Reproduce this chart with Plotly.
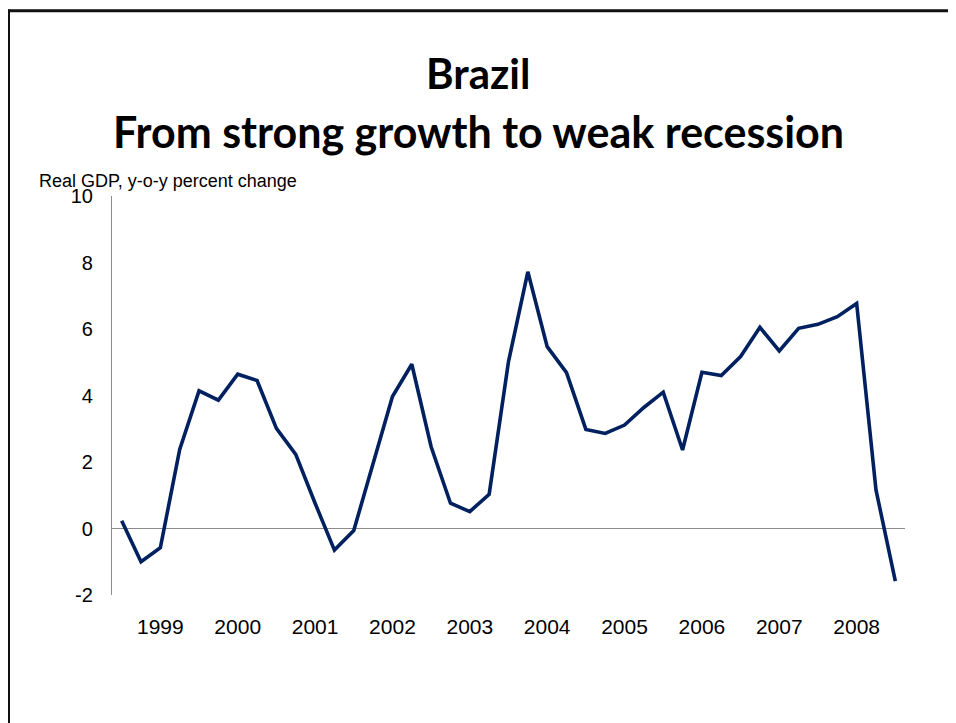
import plotly.graph_objects as go

quarters = ["1998Q3", "1998Q4"] + [f"{y}Q{q}" for y in range(1999, 2009) for q in range(1, 5)]
quarters = quarters[:41]
gdp_growth = [0.23, -1.0, -0.58, 2.38, 4.14, 3.86, 4.64, 4.45, 3.01, 2.23,
              0.76, -0.65, -0.06, 1.91, 3.97, 4.94, 2.46, 0.76, 0.51, 1.03,
              5.02, 7.72, 5.47, 4.69, 2.98, 2.86, 3.11, 3.64, 4.10, 2.36,
              4.70, 4.60, 5.17, 6.05, 5.34, 6.02, 6.14, 6.37, 6.77, 1.16,
              -1.58]
year_labels = ["1999", "2000", "2001", "2002", "2003", "2004", "2005", "2006", "2007", "2008"]
year_tick_cats = [quarters[2 + 4 * k] for k in range(len(year_labels))]
y_ticks = [-2, 0, 2, 4, 6, 8, 10]
y_tick_text = ["-2", "0", "2", "4", "6", "8", "10"]

# The page body has an 8px margin, so the figure starts at (8, 8) in the window.
OFF = 8
W, H = 956 - OFF, 723 - OFF
L, R, T, B = 112 - OFF, 905 - OFF, 196 - OFF, 595 - OFF

def px_x(px):
    return (px - OFF - L) / (R - L)

def px_y(py):
    return (B - (py - OFF)) / (B - T)

fig = go.Figure()
fig.add_trace(go.Scatter(
    x=quarters, y=gdp_growth, mode="lines",
    line=dict(color="#002060", width=3.6),
    hoverinfo="x+y", showlegend=False,
))

fig.update_layout(
    width=W, height=H,
    margin=dict(l=L, r=W - R, t=T, b=H - B, pad=0),
    paper_bgcolor="white", plot_bgcolor="white",
    font=dict(family="Liberation Sans, Arial", color="black"),
    xaxis=dict(
        type="category", range=[-0.5, 40.5],
        tickmode="array", tickvals=year_tick_cats, ticktext=year_labels,
        showgrid=False, zeroline=False, showline=False, ticks="",
        tickfont=dict(size=21, family="Liberation Sans, Arial"),
        ticklabelstandoff=17,
    ),
    yaxis=dict(
        range=[-2, 10], tickmode="array", tickvals=y_ticks, ticktext=y_tick_text,
        showgrid=False, zeroline=True, zerolinecolor="#8c8c8c", zerolinewidth=1.2,
        showline=True, linecolor="#8c8c8c", linewidth=1.2, ticks="",
        tickfont=dict(size=20, family="Liberation Sans, Arial"),
        ticklabelstandoff=14,
    ),
    annotations=[
        dict(text="<b>Brazil</b>", xref="paper", yref="paper",
             x=px_x(478), y=px_y(73), xanchor="center", yanchor="middle",
             showarrow=False, font=dict(size=42, family="Lato", color="black")),
        dict(text="<b>From strong growth to weak recession</b>", xref="paper", yref="paper",
             x=px_x(478), y=px_y(131), xanchor="center", yanchor="middle",
             showarrow=False, font=dict(size=43, family="Lato", color="black")),
        dict(text="Real GDP, y-o-y percent change", xref="paper", yref="paper",
             x=px_x(37), y=px_y(181), xanchor="left", yanchor="middle",
             showarrow=False, font=dict(size=18, family="Liberation Sans, Arial", color="black")),
    ],
    shapes=[
        dict(type="line", xref="paper", yref="paper",
             x0=px_x(8.5), x1=px_x(8.5), y0=px_y(740), y1=px_y(9.5),
             line=dict(color="#111111", width=3)),
        dict(type="line", xref="paper", yref="paper",
             x0=px_x(7), x1=px_x(970), y0=px_y(10.7), y1=px_y(10.7),
             line=dict(color="#111111", width=3)),
    ],
)

fig.write_html("out.html")
